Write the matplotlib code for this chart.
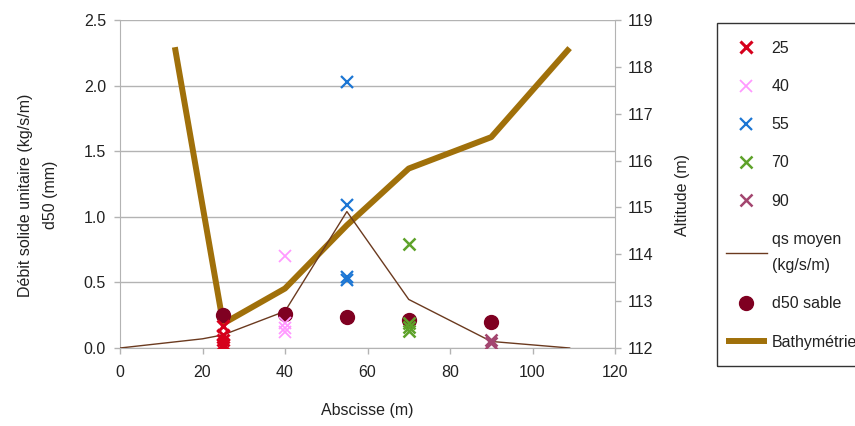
import matplotlib
matplotlib.use("Agg")
import matplotlib.pyplot as plt
import matplotlib.transforms as mtransforms
from matplotlib.lines import Line2D
from matplotlib.patches import Rectangle

plt.rcParams['font.family'] = ['Liberation Sans', 'DejaVu Sans']
plt.rcParams['font.size'] = 11.5

# Mesures ponctuelles de débit solide (kg/s/m) par abscisse
qs_25 = [0.17, 0.10, 0.06, 0.03, 0.01]
qs_40 = [0.70, 0.19, 0.15, 0.12]
qs_55 = [2.03, 1.09, 0.54, 0.52]
qs_70 = [0.79, 0.19, 0.16, 0.13]
qs_90 = [0.06, 0.04]
serie_labels = ['25', '40', '55', '70', '90']
serie_x = [25, 40, 55, 70, 90]
serie_colors = ['#d6001c', '#ff99ff', '#1c76d4', '#5ea22a', '#a3456f']

# qs moyen
moy_x = [0, 20, 25, 40, 55, 70, 90, 109]
moy_y = [0.0, 0.07, 0.10, 0.28, 1.04, 0.37, 0.05, 0.0]

# d50 sable (mm)
d50_x = [25, 40, 55, 70, 90]
d50_y = [0.25, 0.26, 0.24, 0.21, 0.20]

# Bathymétrie (m)
bathy_x = [13.3, 25, 40, 55, 70, 90, 109]
bathy_z = [118.42, 112.52, 113.27, 114.62, 115.83, 116.5, 118.4]

grey = '#b3b3b3'
txt = '#222222'
fs = 11.5

fig = plt.figure(figsize=(8.55, 4.26), dpi=100)
ax = fig.add_axes([120/855, 1-348/426, 495/855, 328/426])
ax2 = ax.twinx()

# bathymétrie en dessous
ax2.plot(bathy_x, bathy_z, color='#a0700a', lw=4.3, solid_capstyle='butt', zorder=2)
ax2.set_ylim(112, 119)
ax2.set_yticks(range(112, 120))

ax.set_zorder(ax2.get_zorder() + 1)
ax.patch.set_visible(False)

# grille horizontale sous la bathymétrie
yticks = [0, 0.5, 1.0, 1.5, 2.0, 2.5]
trans = mtransforms.blended_transform_factory(ax2.transAxes, ax.transData)
for v in yticks:
    ax2.plot([0, 1], [v, v], transform=trans, color=grey, lw=1, zorder=0)

series = [qs_25, qs_40, qs_55, qs_70, qs_90]
lws = [2.2, 1.3, 1.6, 1.8, 1.8]
for xv, vals, c, lab, lw in zip(serie_x, series, serie_colors, serie_labels, lws):
    ax.plot([xv] * len(vals), vals, linestyle='none', marker='x', ms=8,
            mew=lw, color=c, label=lab, zorder=4)

ax.plot(moy_x, moy_y, color='#6b3a1f', lw=1, zorder=3, label='qs moyen\n(kg/s/m)')
ax.plot(d50_x, d50_y, linestyle='none', marker='o', ms=10, color='#7f0021',
        zorder=3, label='d50 sable')

ax.set_xlim(0, 120)
ax.set_ylim(0, 2.5)
ax.set_xticks(range(0, 121, 20))
ax.set_yticks(yticks)
ax.set_yticklabels(['%.1f' % v for v in yticks])

for a in (ax, ax2):
    for s in a.spines.values():
        s.set_visible(False)
    a.tick_params(colors=grey, labelcolor=txt, length=4, width=1, labelsize=fs)
ax.tick_params(axis='x', pad=8)
ax.tick_params(axis='y', pad=6)
ax2.tick_params(axis='y', pad=5)
ax.spines['left'].set_visible(True)
ax.spines['left'].set_color(grey)
ax.spines['bottom'].set_visible(True)
ax.spines['bottom'].set_color(grey)
ax2.spines['right'].set_visible(True)
ax2.spines['right'].set_color(grey)

ax.set_xlabel('Abscisse (m)', color=txt, fontsize=fs)
ax.xaxis.set_label_coords(0.5, -0.168)
ax.set_ylabel('Débit solide unitaire (kg/s/m)\nd50 (mm)', color=txt, fontsize=fs,
              linespacing=1.85)
ax.yaxis.set_label_coords(-0.125, 0.466)
ax2.set_ylabel('Altitude (m)', color=txt, fontsize=fs)
ax2.yaxis.set_label_coords(1.121, 0.466)

# cadre de la légende (dépasse à droite comme dans l'original)
fig.patches.append(Rectangle((717/855, 1-366/426), 200/855, 343/426,
                             transform=fig.transFigure, fill=False,
                             edgecolor='#333333', lw=1))

handles, labels = ax.get_legend_handles_labels()
handles.append(Line2D([], [], color='#a0700a', lw=4.3, solid_capstyle='butt'))
labels.append('Bathymétrie')
leg = fig.legend(handles, labels, loc='upper left', bbox_to_anchor=(726/855, 1-41/426),
                 frameon=False, fontsize=fs, labelspacing=1.45,
                 handlelength=2.55, handletextpad=0.3, borderpad=0, borderaxespad=0)
for t in leg.get_texts():
    t.set_color(txt)
    t.set_linespacing(1.95)

fig.savefig('out.png', dpi=100)
